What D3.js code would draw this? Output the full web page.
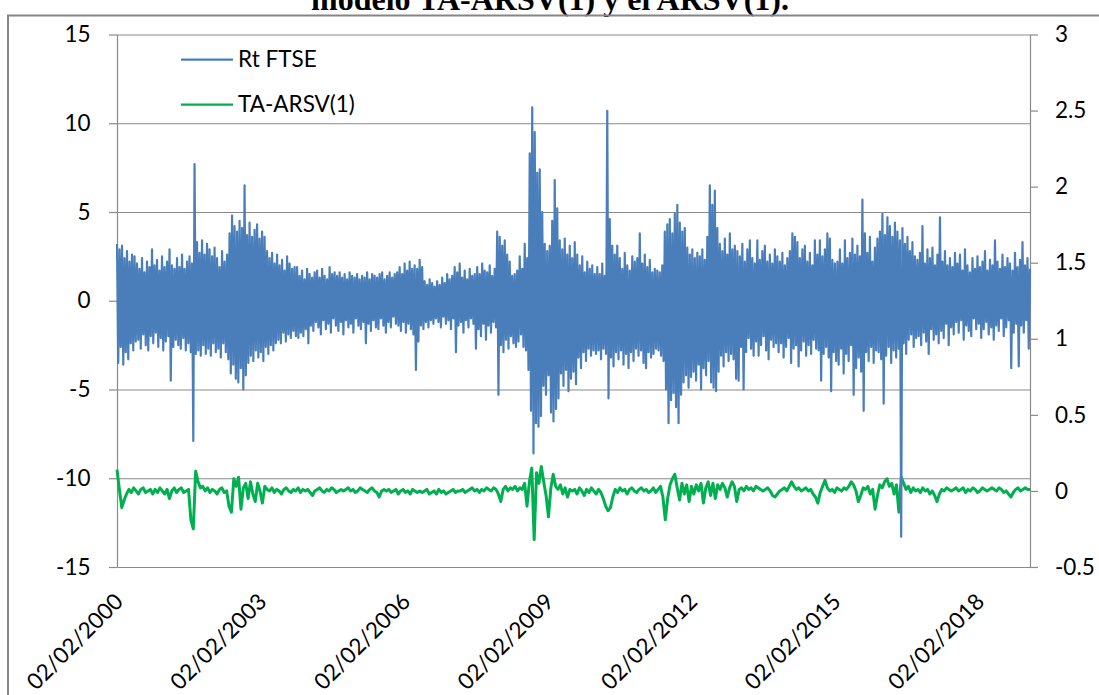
<!DOCTYPE html>
<html>
<head>
<meta charset="utf-8">
<script src="https://cdn.jsdelivr.net/npm/d3@7"></script>
<style>
  html, body { margin: 0; padding: 0; background: #ffffff; }
  svg { display: block; }
</style>
</head>
<body>
<svg id="chart" width="1099" height="695"></svg>
<script>
// Daily FTSE returns (Rt FTSE), sampled evenly from 02/02/2000 to early 2019
const rtFtse = [
  3.2, -3.5, 2.9, -2.6, 3.1, -3.6, 2.4, -2.9, 2.8, -3.3, 2.2, -2.4, 2.6, -2.8, 2.5, -2.3,
  2.1, -2.2, 1.8, -2.7, 2.4, -1.9, 1.6, -2.5, 2.2, -2.8, 1.9, -2.0, 2.9, -2.4, 2.0, -1.8,
  2.3, -2.6, 1.7, -2.1, 2.5, -2.8, 1.9, -2.3, 2.2, -2.0, 2.9, -4.5, 2.0, -2.6, 1.8, -2.2,
  2.4, -2.5, 1.9, -2.7, 2.6, -2.1, 1.8, -2.8, 2.2, -2.4, 2.5, -2.9, 2.1, -7.9, 7.7, -3.0,
  3.3, -2.8, 2.7, -3.1, 3.4, -2.5, 2.6, -3.0, 3.2, -2.7, 2.9, -3.1, 2.5, -2.4, 3.0, -2.9,
  2.4, -2.7, 1.9, -3.2, 2.8, -2.4, 2.2, -2.9, 2.6, -3.3, 3.8, -4.1, 4.8, -3.6, 4.2, -4.4,
  3.9, -4.6, 4.5, -3.8, 4.1, -5.0, 6.5, -4.2, 3.7, -3.5, 4.4, -3.1, 3.6, -3.4, 4.0, -2.8,
  4.3, -3.2, 3.5, -2.9, 3.9, -3.4, 3.6, -2.6, 2.8, -3.0, 2.4, -2.5, 2.7, -2.8, 2.1, -2.4,
  2.6, -2.2, 2.0, -2.4, 2.3, -1.8, 1.7, -2.3, 2.5, -1.9, 2.1, -2.1, 1.8, -1.7, 1.9, -2.0,
  1.9, -2.1, 1.4, -1.8, 1.7, -2.0, 1.2, -1.6, 1.8, -2.4, 1.5, -1.4, 1.3, -1.7, 1.6, -1.2,
  1.7, -1.5, 1.3, -1.9, 1.8, -1.1, 1.4, -1.6, 1.2, -1.3, 1.9, -1.8, 1.5, -1.0, 1.6, -1.4,
  1.4, -1.7, 1.6, -1.2, 1.3, -1.9, 1.5, -1.1, 1.2, -1.5, 1.6, -1.3, 1.4, -1.8, 1.3, -1.0,
  1.5, -1.4, 1.2, -1.6, 1.4, -1.2, 1.3, -2.4, 1.6, -1.3, 1.2, -1.7, 1.5, -1.1, 1.4, -1.5,
  1.3, -1.6, 1.5, -1.0, 1.6, -1.4, 1.2, -1.8, 1.4, -1.2, 1.6, -1.5, 1.3, -0.9, 1.5, -1.3,
  1.6, -1.4, 1.9, -1.7, 1.5, -1.2, 2.1, -1.8, 1.7, -1.3, 2.2, -1.6, 1.8, -1.9, 2.0, -3.9,
  1.8, -2.3, 2.3, -1.4, 1.9, -1.6, 1.1, -1.2, 0.9, -1.5, 1.2, -1.1, 1.0, -1.3, 0.8, -1.0,
  1.1, -1.2, 0.9, -1.5, 1.3, -0.9, 1.0, -1.3, 1.5, -1.1, 1.2, -1.6, 1.4, -1.0, 1.9, -2.9,
  1.6, -1.4, 2.1, -1.2, 1.3, -1.8, 1.7, -1.1, 1.2, -1.5, 1.8, -1.0, 1.4, -1.3, 1.5, -2.7,
  1.9, -1.6, 1.5, -2.0, 2.1, -1.3, 1.7, -2.2, 1.6, -1.4, 2.0, -1.8, 1.4, -1.2, 1.8, -1.5,
  3.9, -5.3, 3.6, -2.5, 3.1, -2.9, 3.4, -2.2, 2.6, -2.7, 2.2, -2.0, 1.4, -2.4, 1.5, -2.6,
  1.7, -2.3, 2.5, -1.9, 1.8, -2.6, 3.2, -2.8, 2.4, -3.9, 8.3, -6.2, 10.9, -8.6, 9.5, -6.9,
  7.2, -7.1, 7.4, -6.5, 5.0, -4.8, 3.2, -5.3, 2.8, -4.2, 3.1, -6.3, 4.5, -6.8, 6.8, -6.1,
  5.2, -5.5, 3.4, -4.1, 2.9, -4.8, 3.5, -3.9, 2.6, -5.1, 3.1, -4.4, 2.4, -4.0, 3.3, -4.7,
  2.6, -3.2, 2.0, -3.8, 2.5, -2.9, 1.6, -3.4, 2.2, -2.7, 1.8, -3.1, 2.0, -2.8, 1.5, -3.0,
  1.9, -2.8, 1.5, -3.3, 2.1, -2.7, 1.4, -3.0, 10.7, -5.5, 4.6, -3.2, 3.1, -3.7, 2.6, -2.9,
  3.1, -3.3, 2.4, -2.8, 1.8, -3.6, 2.7, -3.0, 2.0, -3.8, 1.7, -2.9, 2.5, -3.4, 2.2, -2.7,
  2.4, -3.1, 3.8, -2.8, 2.1, -3.5, 2.6, -3.8, 1.9, -2.9, 2.3, -3.2, 1.6, -3.0, 1.8, -2.7,
  1.7, -2.8, 1.6, -3.1, 2.0, -3.4, 3.9, -5.0, 4.3, -6.9, 4.6, -5.6, 3.8, -5.2, 4.9, -6.0,
  5.4, -6.9, 4.4, -5.3, 3.9, -4.6, 4.1, -4.2, 3.0, -4.9, 2.6, -4.3, 2.9, -4.0, 2.4, -4.5,
  2.7, -3.6, 2.5, -5.0, 2.9, -3.8, 2.3, -4.2, 3.6, -3.4, 6.5, -4.6, 5.4, -4.9, 6.2, -5.1,
  4.1, -4.0, 3.2, -3.1, 2.8, -3.7, 3.5, -2.9, 2.6, -3.4, 3.8, -3.0, 2.9, -3.3, 3.1, -4.4,
  2.8, -4.5, 2.5, -2.6, 3.2, -5.0, 2.2, -2.9, 2.9, -2.1, 3.4, -2.7, 2.4, -3.1, 2.1, -2.3,
  3.4, -3.1, 2.3, -2.5, 2.8, -2.0, 3.1, -2.8, 2.2, -3.3, 2.6, -2.2, 2.1, -2.6, 2.9, -2.4,
  2.5, -2.9, 2.2, -2.4, 2.7, -3.2, 2.0, -2.6, 2.4, -2.1, 2.8, -3.5, 3.8, -2.7, 3.6, -2.5,
  3.3, -3.7, 2.4, -2.8, 2.9, -2.3, 3.1, -3.1, 2.2, -2.5, 2.7, -3.0, 2.0, -2.2, 3.4, -2.7,
  2.6, -2.8, 3.4, -4.5, 2.5, -3.0, 2.9, -2.6, 3.8, -3.2, 3.5, -5.1, 2.3, -2.9, 2.1, -3.4,
  2.2, -3.6, 2.9, -2.7, 2.1, -4.1, 3.4, -3.0, 2.4, -3.4, 2.7, -2.5, 3.5, -5.3, 2.6, -3.8,
  3.1, -3.2, 2.5, -4.0, 5.7, -6.2, 3.8, -2.9, 2.7, -3.4, 3.6, -2.6, 2.2, -3.5, 3.0, -2.8,
  3.5, -2.9, 3.9, -3.3, 4.9, -5.8, 3.7, -3.1, 4.7, -2.6, 4.2, -3.5, 3.6, -2.8, 4.4, -3.2,
  3.9, -2.7, 3.4, -13.3, 4.1, -2.4, 3.2, -3.0, 3.6, -2.2, 2.8, -1.9, 3.3, -2.6, 2.5, -2.1,
  2.3, -2.0, 2.7, -2.5, 4.2, -1.8, 2.1, -2.3, 2.9, -3.0, 2.4, -1.6, 3.0, -2.2, 2.0, -1.9,
  2.6, -2.4, 4.7, -1.7, 2.2, -2.1, 2.8, -1.3, 2.0, -2.5, 2.4, -1.5, 1.9, -1.9, 2.7, -1.2,
  2.1, -1.8, 2.6, -1.1, 1.7, -2.2, 2.9, -1.4, 2.0, -1.7, 1.6, -2.0, 2.4, -1.0, 1.8, -1.6,
  2.5, -1.3, 1.9, -2.1, 2.2, -1.6, 2.8, -1.2, 1.7, -1.9, 2.3, -1.5, 2.0, -2.2, 3.4, -1.4,
  2.2, -1.7, 1.8, -1.0, 2.6, -2.0, 1.9, -1.5, 2.4, -1.1, 2.1, -3.8, 1.7, -1.8, 2.7, -1.3,
  1.9, -3.7, 2.3, -1.4, 3.3, -1.8, 2.0, -1.1, 2.4, -2.7, 1.8
];

// TA-ARSV(1) model series (secondary axis), same period
const taArsv = [
  0.14, 0.01, -0.11, -0.06, -0.02, 0.01, -0.01, 0.02, 0.00, -0.02, 0.01, 0.02, -0.01, 0.00, 0.01, -0.02,
  0.01, -0.01, 0.02, 0.00, -0.02, 0.01, -0.05, 0.00, 0.02, -0.01, 0.01, 0.02, -0.01, 0.00, 0.01, -0.19,
  -0.25, 0.13, 0.06, 0.02, 0.03, 0.00, 0.02, -0.01, 0.01, 0.00, -0.02, 0.01, 0.02, -0.01, 0.00, -0.10,
  -0.14, 0.08, 0.03, 0.09, -0.12, 0.02, 0.05, -0.05, 0.06, -0.02, -0.07, 0.05, 0.00, -0.08, 0.03, 0.01,
  0.00, 0.02, -0.01, 0.01, 0.00, -0.02, 0.01, 0.02, 0.00, -0.01, 0.01, 0.00, 0.02, -0.01, 0.01, 0.00,
  0.01, -0.01, -0.03, 0.00, 0.01, 0.02, 0.00, -0.01, 0.01, 0.00, 0.02, 0.01, -0.01, 0.00, 0.01, 0.00,
  0.01, 0.02, 0.00, 0.01, -0.01, 0.00, 0.02, 0.01, 0.00, -0.01, 0.01, 0.02, 0.00, -0.01, -0.04, 0.00,
  0.01, 0.00, 0.01, -0.01, 0.00, 0.01, -0.02, 0.00, 0.01, -0.01, 0.00, -0.02, 0.01, 0.00, -0.01, 0.00,
  -0.01, 0.00, 0.01, -0.02, -0.01, 0.00, -0.02, 0.01, -0.01, 0.00, -0.02, -0.01, 0.00, 0.01, -0.01, 0.00,
  0.00, 0.01, -0.01, 0.00, 0.01, 0.02, 0.00, 0.01, -0.01, 0.01, 0.00, 0.02, 0.01, 0.00, 0.02, 0.01,
  -0.02, -0.07, 0.01, 0.03, 0.00, 0.02, 0.01, 0.03, 0.00, 0.02, 0.01, 0.05, -0.10, 0.06, 0.15, -0.32,
  0.12, 0.05, 0.16, 0.06, -0.03, -0.17, 0.02, 0.11, 0.03, 0.01, 0.04, -0.02, 0.02, -0.04, 0.01, 0.00,
  0.01, -0.02, 0.02, 0.00, -0.03, 0.01, -0.01, 0.02, 0.00, -0.02, 0.01, -0.01, -0.05, -0.10, -0.13, -0.11,
  -0.04, 0.01, -0.01, 0.02, 0.00, 0.01, -0.02, 0.01, 0.02, 0.00, -0.01, 0.01, 0.02, 0.00, 0.01, -0.01,
  0.00, 0.02, -0.01, 0.01, 0.03, -0.04, -0.19, -0.05, 0.04, 0.08, 0.11, 0.02, -0.06, 0.05, -0.02, 0.04,
  -0.07, 0.03, -0.02, 0.04, 0.00, 0.05, -0.08, 0.02, 0.06, -0.03, 0.05, -0.05, 0.04, 0.01, 0.05, 0.02,
  -0.04, 0.02, 0.06, 0.03, -0.07, 0.01, 0.02, 0.00, 0.03, 0.01, 0.02, 0.00, 0.03, 0.02, 0.01, 0.00,
  0.01, 0.02, 0.00, -0.03, -0.04, -0.02, 0.00, 0.01, 0.02, 0.00, 0.03, 0.06, 0.03, 0.01, 0.02, 0.00,
  0.01, 0.02, 0.00, 0.01, -0.02, -0.04, -0.08, -0.01, 0.03, 0.07, 0.02, 0.00, 0.01, -0.01, 0.02, 0.01,
  0.00, 0.02, 0.01, 0.03, 0.06, 0.04, 0.00, -0.07, -0.03, 0.02, 0.01, 0.03, -0.02, 0.01, -0.12, -0.03,
  0.04, 0.02, 0.06, 0.08, 0.03, 0.05, -0.02, 0.04, -0.14, 0.09, 0.05, 0.01, 0.03, -0.01, 0.02, 0.00,
  0.01, -0.01, 0.02, 0.00, 0.01, -0.02, 0.00, -0.03, -0.07, -0.02, 0.01, 0.00, 0.02, 0.01, 0.00, 0.01,
  0.02, 0.00, 0.01, 0.02, -0.01, 0.01, 0.00, 0.02, 0.01, -0.01, 0.00, 0.02, 0.01, 0.00, 0.01, 0.02,
  0.01, 0.00, 0.02, 0.01, -0.01, 0.00, -0.02, -0.04, -0.01, 0.01, 0.02, 0.00, 0.01, 0.02, 0.01, 0.01
];

const seriesNames = ["Rt FTSE", "TA-ARSV(1)"];
const leftTicks = [-15, -10, -5, 0, 5, 10, 15];
const rightTicks = [-0.5, 0, 0.5, 1, 1.5, 2, 2.5, 3];
const dateTicks = ["02/02/2000", "02/02/2003", "02/02/2006", "02/02/2009",
                   "02/02/2012", "02/02/2015", "02/02/2018"];
const firstDate = "02/02/2000";
const lastDate = "04/03/2019";
const titleText = "modelo TA-ARSV(1) y el ARSV(1).";

const parseDate = d3.timeParse("%d/%m/%Y");
const startDate = parseDate(firstDate);
const endDate = parseDate(lastDate);

const plot = { left: 117, right: 1030, top: 34.5, bottom: 567 };
const gridColor = "#8a8a8a";
const labelFont = "Lato, 'Open Sans', sans-serif";
const blue = "#4a7ebb";
const green = "#00b050";

const svg = d3.select("#chart");

const x = d3.scaleTime().domain([startDate, endDate]).range([plot.left, plot.right]);
const yLeft = d3.scaleLinear().domain([-15, 15]).range([plot.bottom, plot.top]);
const yRight = d3.scaleLinear().domain([-0.5, 3]).range([plot.bottom, plot.top]);

// sample dates evenly spread over the period
const sampleDates = n => d3.range(n).map(i =>
  new Date(+startDate + (endDate - startDate) * i / (n - 1)));
const blueDates = sampleDates(rtFtse.length);
const greenDates = sampleDates(taArsv.length);

// title, mostly above the frame
svg.append("text")
  .attr("x", 550).attr("y", 10)
  .attr("text-anchor", "middle")
  .attr("font-family", "'Liberation Serif', 'Times New Roman', serif")
  .attr("font-weight", "bold")
  .attr("font-size", 32)
  .attr("fill", "#000")
  .text(titleText);

// chart frame
svg.append("rect")
  .attr("x", 8).attr("y", 15.5)
  .attr("width", 1200).attr("height", 800)
  .attr("fill", "none")
  .attr("stroke", "#858585")
  .attr("stroke-width", 2);

// horizontal gridlines
svg.append("g")
  .attr("transform", `translate(${plot.left},0)`)
  .call(d3.axisLeft(yLeft)
    .tickValues(leftTicks.filter(v => v > -15))
    .tickSize(-(plot.right - plot.left))
    .tickFormat(""))
  .call(g => g.select(".domain").remove())
  .call(g => g.selectAll("line").attr("stroke", gridColor).attr("stroke-width", 1.2));

// left axis
const leftAxis = svg.append("g")
  .attr("transform", `translate(${plot.left},0)`)
  .call(d3.axisLeft(yLeft)
    .tickValues(leftTicks)
    .tickSize(8).tickSizeOuter(0)
    .tickPadding(18.5)
    .tickFormat(d => String(d)));

// right axis
const rightAxis = svg.append("g")
  .attr("transform", `translate(${plot.right},0)`)
  .call(d3.axisRight(yRight)
    .tickValues(rightTicks)
    .tickSize(8).tickSizeOuter(0)
    .tickPadding(17)
    .tickFormat(d => String(d)));

[leftAxis, rightAxis].forEach(g => {
  g.select(".domain").attr("stroke", gridColor).attr("stroke-width", 1.2);
  g.selectAll(".tick line").attr("stroke", gridColor).attr("stroke-width", 1.2);
  g.selectAll(".tick text")
    .attr("font-family", labelFont)
    .attr("font-size", 22.5)
    .attr("fill", "#000");
});

// bottom axis line
svg.append("g")
  .attr("transform", `translate(0,${plot.bottom})`)
  .call(d3.axisBottom(x).tickValues([]).tickSizeOuter(0))
  .call(g => g.select(".domain").attr("stroke", gridColor).attr("stroke-width", 1.2));

// rotated date labels
svg.append("g")
  .selectAll("text")
  .data(dateTicks)
  .join("text")
  .attr("transform", d => `translate(${x(parseDate(d)) + 7.5},${plot.bottom + 36}) rotate(-45)`)
  .attr("text-anchor", "end")
  .attr("font-family", labelFont)
  .attr("font-size", 22.5)
  .attr("fill", "#000")
  .text(d => d);

// series
const greenLine = d3.line()
  .x((d, i) => x(greenDates[i]))
  .y(d => yRight(d));
const blueLine = d3.line()
  .x((d, i) => x(blueDates[i]))
  .y(d => yLeft(d));

svg.append("path")
  .datum(taArsv)
  .attr("d", greenLine)
  .attr("fill", "none")
  .attr("stroke", green)
  .attr("stroke-width", 3)
  .attr("stroke-linejoin", "round");

svg.append("path")
  .datum(rtFtse)
  .attr("d", blueLine)
  .attr("fill", "none")
  .attr("stroke", blue)
  .attr("stroke-width", 2.2)
  .attr("stroke-linejoin", "round");

// legend
const legendY = [59.5, 104.5];
const legend = svg.append("g")
  .selectAll("g")
  .data(seriesNames)
  .join("g")
  .attr("transform", (d, i) => `translate(181,${legendY[i]})`);
legend.append("line")
  .attr("x1", 0).attr("x2", 52)
  .attr("stroke", (d, i) => i === 0 ? blue : green)
  .attr("stroke-width", 2.25);
legend.append("text")
  .attr("x", 57)
  .attr("dy", "0.35em")
  .attr("font-family", labelFont)
  .attr("font-size", 22.5)
  .attr("fill", "#000")
  .text(d => d);
</script>
</body>
</html>
